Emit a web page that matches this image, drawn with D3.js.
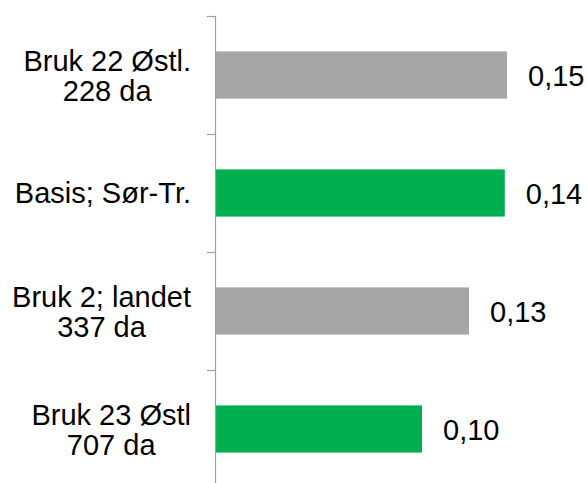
<!DOCTYPE html>
<meta charset="utf-8">

<head>
    <meta charset="utf-8">
    <script src="https://d3js.org/d3.v7.min.js"></script>
    <style>
        body { margin: 0; background: #fff; }
        svg { display: block; font-family: "Liberation Sans", Arial, sans-serif; }
    </style>
</head>

<body>
    <svg width="587" height="483"></svg>

    <script>

        // data (top to bottom)
        var categories = ["Bruk 22 Østl.\n228 da", "Basis; Sør-Tr.", "Bruk 2; landet\n337 da", "Bruk 23 Østl\n707 da"];
        var values = [0.146, 0.1449, 0.127, 0.1035];
        var barColors = ["#a6a6a6", "#00b050", "#a6a6a6", "#00b050"];

        var data = categories.map(function (c, i) {
            return { cat: c, value: values[i], color: barColors[i] };
        });

        var svg = d3.select("svg");
        var axisX = 215;
        var H = 483;

        var x = d3.scaleLinear().domain([0, 0.2]).range([axisX, axisX + 400]);
        var y = d3.scaleBand()
            .domain(categories)
            .range([16, 488])
            .paddingInner(0.6)
            .paddingOuter(0.3);

        var gap = (y.step() - y.bandwidth()) / 2;

        // bars
        svg.selectAll(".bar")
            .data(data)
            .enter().append("rect")
            .attr("class", "bar")
            .attr("x", x(0))
            .attr("y", function (d) { return y(d.cat); })
            .attr("width", function (d) { return x(d.value) - x(0); })
            .attr("height", y.bandwidth())
            .attr("fill", function (d) { return d.color; });

        // axis line + ticks between categories
        svg.append("line")
            .attr("x1", axisX + 0.5).attr("x2", axisX + 0.5)
            .attr("y1", y.range()[0]).attr("y2", H)
            .attr("stroke", "#a0a0a0").attr("stroke-width", 1.2);

        svg.selectAll(".tick")
            .data(categories)
            .enter().append("line")
            .attr("class", "tick")
            .attr("x1", axisX - 8).attr("x2", axisX + 0.5)
            .attr("y1", function (d) { return Math.round(y(d) - gap) + 0.5; })
            .attr("y2", function (d) { return Math.round(y(d) - gap) + 0.5; })
            .attr("stroke", "#a0a0a0").attr("stroke-width", 1.2);

        // value labels
        svg.selectAll(".val")
            .data(data)
            .enter().append("text")
            .attr("class", "val")
            .attr("x", function (d) { return x(d.value) + 21; })
            .attr("y", function (d) { return y(d.cat) + y.bandwidth() / 2 + 11; })
            .style("font-size", "29px")
            .style("fill", "#000")
            .text(function (d) { return d.value.toFixed(2).replace(".", ","); });

        // category labels: block right-aligned, lines centered within
        var right = 191;
        data.forEach(function (d) {
            var lines = d.cat.split("\n");
            var cy = y(d.cat) + y.bandwidth() / 2;
            var g = svg.append("g");
            var t = g.append("text")
                .style("font-size", "29px")
                .style("fill", "#000")
                .attr("text-anchor", "middle");
            var first = lines.length == 1 ? cy + 10 : cy - 4;
            lines.forEach(function (l, i) {
                t.append("tspan")
                    .attr("y", first + i * 30)
                    .text(l);
            });
            var maxW = 0;
            t.selectAll("tspan").each(function () {
                maxW = Math.max(maxW, this.getComputedTextLength());
            });
            t.selectAll("tspan").attr("x", right - maxW / 2);
        });

    </script>
</body>

</html>
